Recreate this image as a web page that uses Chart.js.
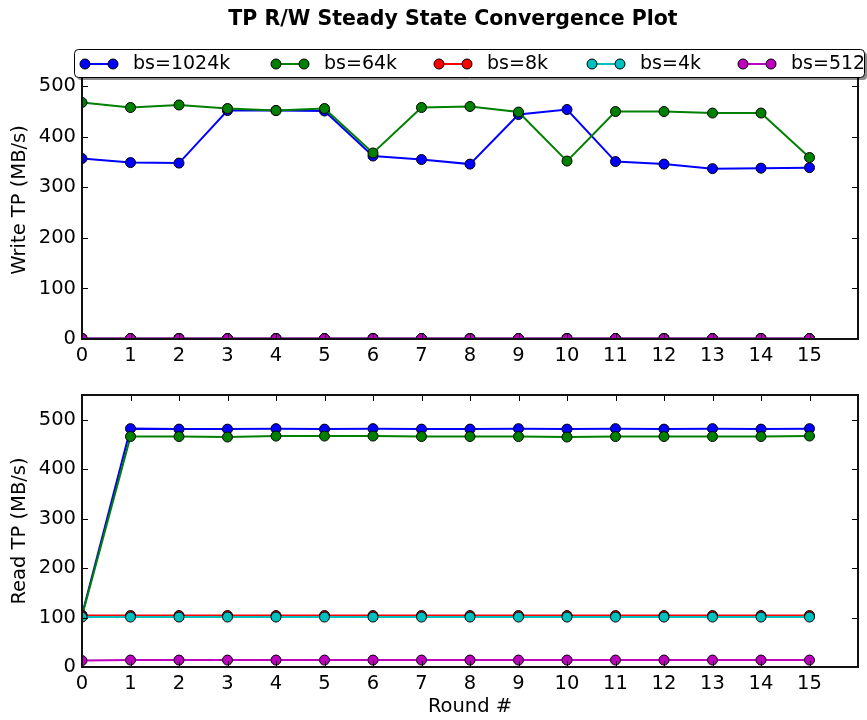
<!DOCTYPE html>
<html>
<head>
<meta charset="utf-8">
<script src="https://cdn.jsdelivr.net/npm/chart.js@4.4.1/dist/chart.umd.min.js"></script>
<style>
  body { margin: 0; background: #fff; }
  #wrap { position: relative; width: 867px; height: 720px; }
  canvas { position: absolute; left: 0; }
</style>
</head>
<body>
<div id="wrap">
  <canvas id="writeChart" width="867" height="372" style="top:0"></canvas>
  <canvas id="readChart" width="867" height="348" style="top:372px"></canvas>
</div>
<script>
const rounds = [0, 1, 2, 3, 4, 5, 6, 7, 8, 9, 10, 11, 12, 13, 14, 15];
const seriesLabels = ['bs=1024k', 'bs=64k', 'bs=8k', 'bs=4k', 'bs=512'];
const seriesColors = ['#0000ff', '#008000', '#ff0000', '#00bfbf', '#bf00bf'];
const yTicks = [0, 100, 200, 300, 400, 500];

// write throughput (MB/s)
const write1024k = [357, 349, 348, 452, 452, 451, 362, 355, 346, 444, 454, 351, 346, 337, 338, 339];
const write64k   = [468, 458, 463, 456, 452, 456, 368, 458, 460, 449, 352, 450, 450, 447, 447, 359];
const write8k    = [1, 1, 1, 1, 1, 1, 1, 1, 1, 1, 1, 1, 1, 1, 1, 1];
const write4k    = [1, 1, 1, 1, 1, 1, 1, 1, 1, 1, 1, 1, 1, 1, 1, 1];
const write512   = [1, 1, 1, 1, 1, 1, 1, 1, 1, 1, 1, 1, 1, 1, 1, 1];

// read throughput (MB/s)
const read1024k = [105, 482, 481, 481, 482, 481, 482, 481, 481, 482, 481, 482, 481, 482, 481, 482];
const read64k   = [103, 466, 466, 465, 467, 467, 467, 466, 466, 466, 465, 466, 466, 466, 466, 467];
const read8k    = [104, 104, 104, 104, 104, 104, 104, 104, 104, 104, 104, 104, 104, 104, 104, 104];
const read4k    = [101, 101, 101, 101, 101, 101, 101, 101, 101, 101, 101, 101, 101, 101, 101, 101];
const read512   = [13, 14, 14, 14, 14, 14, 14, 14, 14, 14, 14, 14, 14, 14, 14, 14];

const FONT = 'DejaVu Sans';
const FS = 19.5;

const makeDatasets = (seriesList) => seriesList.map((vals, i) => ({
  label: seriesLabels[i],
  data: rounds.map((r, j) => ({ x: r, y: vals[j] })),
  borderColor: seriesColors[i],
  backgroundColor: seriesColors[i],
  pointBackgroundColor: seriesColors[i],
  pointBorderColor: '#000',
  pointBorderWidth: 1,
  pointRadius: 5,
  borderWidth: 2,
  tension: 0,
  order: seriesList.length - i
}));

// box round the axes with inward ticks on all four sides
const framePlugin = {
  id: 'frame',
  afterDatasetsDraw(chart) {
    const { ctx, chartArea: a, scales } = chart;
    ctx.save();
    ctx.strokeStyle = '#000';
    ctx.lineWidth = 1;
    ctx.beginPath();
    scales.x.ticks.forEach(t => {
      const px = Math.round(scales.x.getPixelForValue(t.value)) + 0.5;
      ctx.moveTo(px, a.bottom); ctx.lineTo(px, a.bottom - 6);
      ctx.moveTo(px, a.top); ctx.lineTo(px, a.top + 6);
    });
    scales.y.ticks.forEach(t => {
      const py = Math.round(scales.y.getPixelForValue(t.value)) + 0.5;
      ctx.moveTo(a.left, py); ctx.lineTo(a.left + 6, py);
      ctx.moveTo(a.right, py); ctx.lineTo(a.right - 6, py);
    });
    ctx.stroke();
    ctx.lineWidth = 2;
    ctx.strokeStyle = '#111';
    ctx.strokeRect(a.left, a.top, a.right - a.left, a.bottom - a.top);
    ctx.restore();
  }
};

// figure title and the legend box above the write plot
const headerPlugin = {
  id: 'header',
  afterDraw(chart) {
    const ctx = chart.ctx;
    ctx.save();
    ctx.fillStyle = '#000';
    ctx.font = 'bold 20.5px "' + FONT + '"';
    ctx.textAlign = 'center';
    ctx.textBaseline = 'alphabetic';
    ctx.fillText('TP R/W Steady State Convergence Plot', 453, 25);

    const bx = 74, by = 49, bw = 790, bh = 28;
    ctx.fillStyle = 'rgba(0,0,0,0.45)';
    ctx.beginPath();
    ctx.roundRect(bx + 3, by + 3, bw, bh, 4);
    ctx.fill();
    ctx.fillStyle = '#fff';
    ctx.strokeStyle = '#000';
    ctx.lineWidth = 1;
    ctx.beginPath();
    ctx.roundRect(bx + 0.5, by + 0.5, bw, bh, 4);
    ctx.fill();
    ctx.stroke();

    const itemX = [85, 276, 439, 592, 743];
    const cy = by + bh / 2 + 1;
    ctx.font = '19px "' + FONT + '"';
    ctx.textAlign = 'left';
    ctx.textBaseline = 'middle';
    seriesLabels.forEach((lab, i) => {
      const x0 = itemX[i], x1 = x0 + 28;
      ctx.strokeStyle = seriesColors[i];
      ctx.lineWidth = 2;
      ctx.beginPath();
      ctx.moveTo(x0, cy); ctx.lineTo(x1, cy);
      ctx.stroke();
      [x0, x1].forEach(px => {
        ctx.beginPath();
        ctx.arc(px, cy, 5, 0, Math.PI * 2);
        ctx.fillStyle = seriesColors[i];
        ctx.fill();
        ctx.strokeStyle = '#000';
        ctx.lineWidth = 1;
        ctx.stroke();
      });
      ctx.fillStyle = '#000';
      ctx.fillText(lab, x1 + 20, cy);
    });
    ctx.restore();
  }
};

const makeOptions = (yTitle, xTitle, pad, xHeight) => ({
  responsive: false,
  animation: false,
  layout: { padding: pad },
  plugins: { legend: { display: false }, tooltip: { enabled: false } },
  scales: {
    x: {
      type: 'linear',
      min: 0,
      max: 16,
      grid: { display: false, drawTicks: false },
      border: { display: false },
      afterBuildTicks: (scale) => { scale.ticks = rounds.map(v => ({ value: v })); },
      afterFit: (scale) => { scale.height = xHeight; },
      ticks: {
        stepSize: 1,
        autoSkip: false,
        maxRotation: 0,
        padding: 5,
        color: '#000',
        font: { family: FONT, size: FS }
      },
      title: {
        display: !!xTitle,
        text: xTitle,
        color: '#000',
        font: { family: FONT, size: FS },
        padding: { top: 0, bottom: 1 }
      }
    },
    y: {
      min: 0,
      max: 550,
      grid: { display: false, drawTicks: false },
      border: { display: false },
      afterBuildTicks: (scale) => { scale.ticks = yTicks.map(v => ({ value: v })); },
      afterFit: (scale) => { scale.width = 82; },
      ticks: {
        padding: 6,
        color: '#000',
        font: { family: FONT, size: FS }
      },
      title: {
        display: true,
        text: yTitle,
        color: '#000',
        font: { family: FONT, size: FS },
        padding: { top: 8, bottom: 0 }
      }
    }
  }
});

new Chart(document.getElementById('writeChart').getContext('2d'), {
  type: 'line',
  data: { datasets: makeDatasets([write1024k, write64k, write8k, write4k, write512]) },
  options: makeOptions('Write TP (MB/s)', '', { top: 61, right: 9, left: 0, bottom: 3 }, 30),
  plugins: [framePlugin, headerPlugin]
});

new Chart(document.getElementById('readChart').getContext('2d'), {
  type: 'line',
  data: { datasets: makeDatasets([read1024k, read64k, read8k, read4k, read512]) },
  options: makeOptions('Read TP (MB/s)', 'Round #', { top: 23, right: 9, left: 0, bottom: 0 }, 53),
  plugins: [framePlugin]
});
</script>
</body>
</html>
